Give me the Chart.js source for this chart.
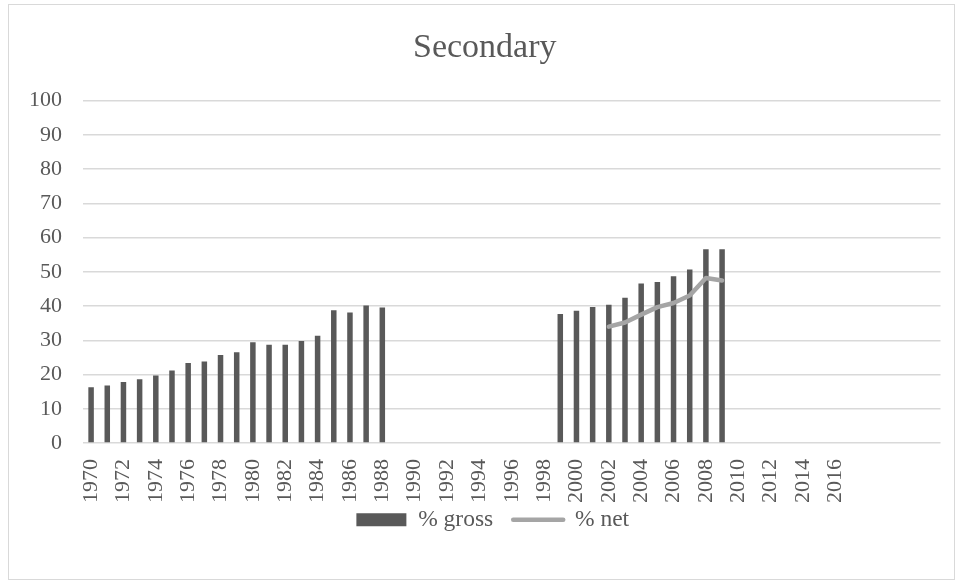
<!DOCTYPE html>
<html>
<head>
<meta charset="utf-8">
<script src="https://cdn.jsdelivr.net/npm/chart.js@4/dist/chart.umd.min.js"></script>
<style>
  html, body { margin: 0; padding: 0; background: #ffffff; }
  #frame {
    position: absolute; left: 8px; top: 4px; width: 947px; height: 576px;
    border: 1px solid #d9d9d9; box-sizing: border-box;
  }
  #chart { position: absolute; left: 0; top: 0; }
</style>
</head>
<body>
<div id="frame"></div>
<canvas id="chart" width="959" height="581"></canvas>
<script>
// Years on the category axis (labels are printed every second year up to 2016)
const years = [];
for (let y = 1970; y <= 2022; y++) years.push(y);

const lastLabelledYear = 2016;

// Secondary enrolment, % gross (null = no data)
const grossValues = [
  16.3, 16.8, 17.8, 18.6, 19.7, 21.2, 23.4, 23.8, 25.7, 26.5, // 1970-1979
  29.4, 28.7, 28.7, 29.8, 31.3, 38.8, 38.1, 40.2, 39.6,       // 1980-1988
  null, null, null, null, null, null, null, null, null, null, // 1989-1998
  37.7, 38.6, 39.7, 40.4, 42.4, 46.6, 47.0, 48.7, 50.7, 56.6, 56.6, // 1999-2009
  null, null, null, null, null, null, null, null, null, null, null, null, null // 2010-2022
];

// Secondary enrolment, % net
const netValues = [
  null, null, null, null, null, null, null, null, null, null,
  null, null, null, null, null, null, null, null, null,
  null, null, null, null, null, null, null, null, null, null,
  null, null, null, 34.0, 35.2, 37.5, 39.7, 40.9, 43.1, 48.2, 47.5,
  null, null, null, null, null, null, null, null, null, null, null, null, null
];

const yTicks = [0, 10, 20, 30, 40, 50, 60, 70, 80, 90, 100];

const seriesNames = ['% gross', '% net'];
const titleText = 'Secondary';

const textColor = '#595959';
const gridColor = '#d9d9d9';
const grossColor = '#595959';
const netColor = '#a5a5a5';
const serif = "'Liberation Serif', 'Times New Roman', serif";

// Moves the legend row right and up, close under the year labels
const legendShift = {
  id: 'legendShift',
  afterLayout(chart) {
    const lg = chart.legend;
    if (lg) {
      lg.left += 8; lg.right += 8;
      lg.top -= 21; lg.bottom -= 21;
    }
  }
};

new Chart(document.getElementById('chart'), {
  type: 'bar',
  data: {
    labels: years.map(String),
    datasets: [
      {
        label: seriesNames[0],
        data: grossValues,
        backgroundColor: grossColor,
        categoryPercentage: 1.0,
        barPercentage: 0.34,
        order: 2
      },
      {
        type: 'line',
        label: seriesNames[1],
        data: netValues,
        borderColor: netColor,
        backgroundColor: netColor,
        borderWidth: 4.5,
        pointRadius: 0,
        tension: 0,
        borderCapStyle: 'round',
        borderJoinStyle: 'round',
        spanGaps: false,
        order: 1
      }
    ]
  },
  plugins: [legendShift],
  options: {
    responsive: false,
    animation: false,
    layout: { padding: { left: 29, right: 18.5, top: 0, bottom: 18.5 } },
    plugins: {
      title: {
        display: true,
        text: titleText,
        color: textColor,
        font: { family: serif, size: 34, weight: 'normal' },
        padding: { top: 28, bottom: 31.9 }
      },
      legend: {
        display: true,
        position: 'bottom',
        labels: {
          color: textColor,
          font: { family: serif, size: 23.5 },
          usePointStyle: true,
          pointStyleWidth: 50,
          padding: 20,
          generateLabels: (chart) => chart.data.datasets.map((ds, i) => ({
            text: ds.label,
            fontColor: textColor,
            pointStyle: 'line',
            strokeStyle: i === 0 ? grossColor : netColor,
            fillStyle: i === 0 ? grossColor : netColor,
            lineWidth: i === 0 ? 13 : 4.5,
            lineCap: i === 0 ? 'butt' : 'round',
            hidden: false,
            datasetIndex: i
          }))
        }
      },
      tooltip: { enabled: false }
    },
    scales: {
      x: {
        grid: { display: false, drawTicks: false },
        border: { display: false },
        afterFit: (scale) => {
          scale.height = 66;
          scale.paddingLeft = 0;
          scale.paddingRight = 0;
        },
        ticks: {
          autoSkip: false,
          minRotation: 90,
          maxRotation: 90,
          padding: 16,
          color: textColor,
          font: { family: serif, size: 22 },
          callback: function (value, index) {
            const yr = years[index];
            return (yr <= lastLabelledYear && (yr - 1970) % 2 === 0) ? String(yr) : '';
          }
        }
      },
      y: {
        min: 0,
        max: 100,
        afterBuildTicks: (axis) => { axis.ticks = yTicks.map(v => ({ value: v })); },
        afterFit: (scale) => { scale.width = 54; },
        grid: { color: gridColor, lineWidth: 1.5, drawTicks: false },
        border: { display: false },
        ticks: {
          padding: 21,
          color: textColor,
          font: { family: serif, size: 22 }
        }
      }
    }
  }
});
</script>
</body>
</html>
